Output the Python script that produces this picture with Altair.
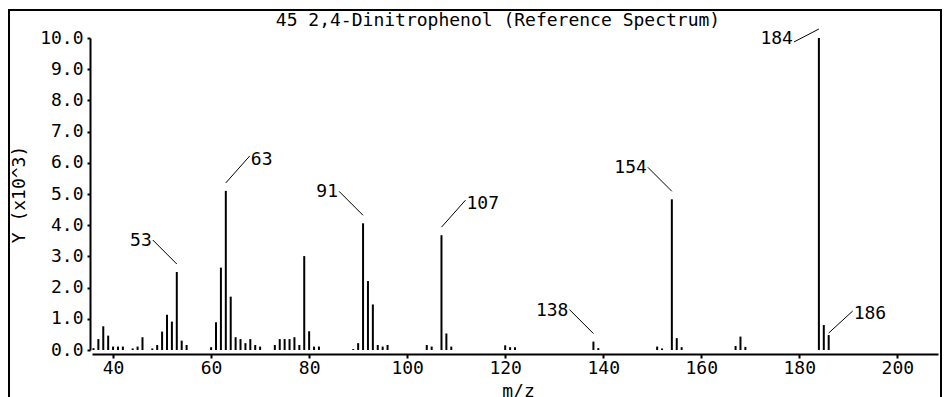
import altair as alt
import pandas as pd

# ---- data (m/z, intensity in thousands) ----
mz = [36, 37, 38, 39, 40, 41, 42, 44, 45, 46, 48, 49, 50, 51, 52, 53, 54, 55,
      60, 61, 62, 63, 64, 65, 66, 67, 68, 69, 70,
      73, 74, 75, 76, 77, 78, 79, 80, 81, 82,
      89, 90, 91, 92, 93, 94, 95, 96,
      104, 105, 107, 108, 109,
      120, 121, 122,
      138, 139,
      151, 152, 154, 155, 156,
      167, 168, 169,
      184, 185, 186]
intensity = [0.06, 0.35, 0.76, 0.46, 0.11, 0.11, 0.11, 0.05, 0.11, 0.41, 0.05, 0.16, 0.59, 1.13, 0.91, 2.50, 0.30, 0.16,
             0.09, 0.89, 2.64, 5.10, 1.71, 0.41, 0.35, 0.22, 0.35, 0.16, 0.11,
             0.16, 0.35, 0.35, 0.35, 0.41, 0.16, 3.01, 0.60, 0.11, 0.11,
             0.03, 0.22, 4.06, 2.21, 1.46, 0.16, 0.11, 0.16,
             0.16, 0.11, 3.68, 0.53, 0.11,
             0.15, 0.09, 0.09,
             0.27, 0.06,
             0.11, 0.05, 4.83, 0.38, 0.09,
             0.13, 0.43, 0.10,
             10.0, 0.80, 0.48]

labels_left_up = [53, 91, 138, 154]
labels_right_up = [63, 107]
labels_right_low = [186]
labels_left_down = [184]

title_text = ["45 2,4-Dinitrophenol (Reference Spectrum)"]
x_title = "m/z"
y_title = "Y (x10^3)"
x_ticks = [40, 60, 80, 100, 120, 140, 160, 180, 200]
y_ticks = [0, 1, 2, 3, 4, 5, 6, 7, 8, 9, 10]

FONT = "DejaVu Sans Mono"
FS = 18
W, H = 846, 312
X_DOMAIN = [35.7, 208.3]
Y_DOMAIN = [0, 10]

df = pd.DataFrame({"mz": mz, "inten": intensity})
lookup = dict(zip(mz, intensity))


def lab(ms):
    return pd.DataFrame({"mz": ms, "inten": [lookup[m] for m in ms],
                         "label": [str(m) for m in ms]})


xs = alt.Scale(domain=X_DOMAIN, nice=False, zero=False)
ys = alt.Scale(domain=Y_DOMAIN, nice=False)

x_axis = alt.Axis(
    values=x_ticks, format="d", title=x_title, grid=False, offset=4,
    domainColor="black", domainWidth=2, tickColor="black", tickWidth=2, tickSize=4,
    labelFont=FONT, labelFontSize=FS, labelColor="black", labelPadding=1,
    labelOverlap=False,
    titleFont=FONT, titleFontSize=FS, titleFontWeight="normal", titleColor="black",
    titleX=426, titleY=37, titleAlign="center", titleBaseline="middle")
y_axis = alt.Axis(
    values=y_ticks, tickCount=11, format=".1f", title=y_title, grid=False, offset=2,
    domainColor="black", domainWidth=2, tickColor="black", tickWidth=2, tickSize=3,
    labelFont=FONT, labelFontSize=FS, labelColor="black", labelPadding=4,
    labelOverlap=False, labelBound=False,
    titleFont=FONT, titleFontSize=FS, titleFontWeight="normal", titleColor="black",
    titleX=-71, titleY=156, titleAngle=270, titleAlign="center", titleBaseline="middle")

bars = alt.Chart(df).mark_rule(strokeWidth=2, color="black").encode(
    x=alt.X("mz:Q", scale=xs, axis=x_axis),
    y=alt.Y("inten:Q", scale=ys, axis=y_axis),
    y2=alt.datum(0),
)


def leader(ms, yoff, dx, dy):
    return alt.Chart(lab(ms)).mark_rule(
        strokeWidth=1, color="black", yOffset=yoff, x2Offset=dx, y2Offset=dy
    ).encode(x=alt.X("mz:Q", scale=xs, axis=x_axis), y=alt.Y("inten:Q", scale=ys, axis=y_axis),
             x2="mz:Q", y2="inten:Q")


def texts(ms, align, dx, dy):
    return alt.Chart(lab(ms)).mark_text(
        align=align, baseline="middle", dx=dx, dy=dy, font=FONT, fontSize=FS, color="black"
    ).encode(x=alt.X("mz:Q", scale=xs, axis=x_axis), y=alt.Y("inten:Q", scale=ys, axis=y_axis),
             text="label:N")


layers = [
    bars,
    leader(labels_left_up, -8, -24, -32), texts(labels_left_up, "right", -25, -31),
    leader(labels_right_up, -8, 24, -35), texts(labels_right_up, "left", 25, -31),
    leader(labels_right_low, -2, 24, -24), texts(labels_right_low, "left", 25, -21),
    leader(labels_left_down, -9, -25, 4), texts(labels_left_down, "right", -26, 1),
]

# chart title drawn as text, so the panel frame does not push it away
title = alt.Chart(pd.DataFrame({"t": title_text})).mark_text(
    font=FONT, fontSize=FS, color="black", align="center", baseline="alphabetic"
).encode(x=alt.value(406), y=alt.value(-12), text="t:N")

# panel frame (decoration), drawn as thin filled rectangles
frame_df = pd.DataFrame({"k": [0]})
frame = [
    alt.Chart(frame_df).mark_rect(color="black").encode(
        x=alt.value(-84), x2=alt.value(-82), y=alt.value(-29), y2=alt.value(400)),
    alt.Chart(frame_df).mark_rect(color="black").encode(
        x=alt.value(848), x2=alt.value(850), y=alt.value(-29), y2=alt.value(400)),
    alt.Chart(frame_df).mark_rect(color="black").encode(
        x=alt.value(-84), x2=alt.value(850), y=alt.value(-29), y2=alt.value(-27)),
]

chart = alt.layer(*layers, title, *frame).properties(
    width=W, height=H,
    autosize=alt.AutoSizeParams(type="none"),
    padding={"left": 84, "top": 30, "right": 4, "bottom": 47},
).configure(
    background="white",
    view=alt.ViewConfig(stroke=None),
    axis=alt.AxisConfig(labelOverlap=False),
)

chart.save("out.html", embed_options={"renderer": "svg", "actions": False})
